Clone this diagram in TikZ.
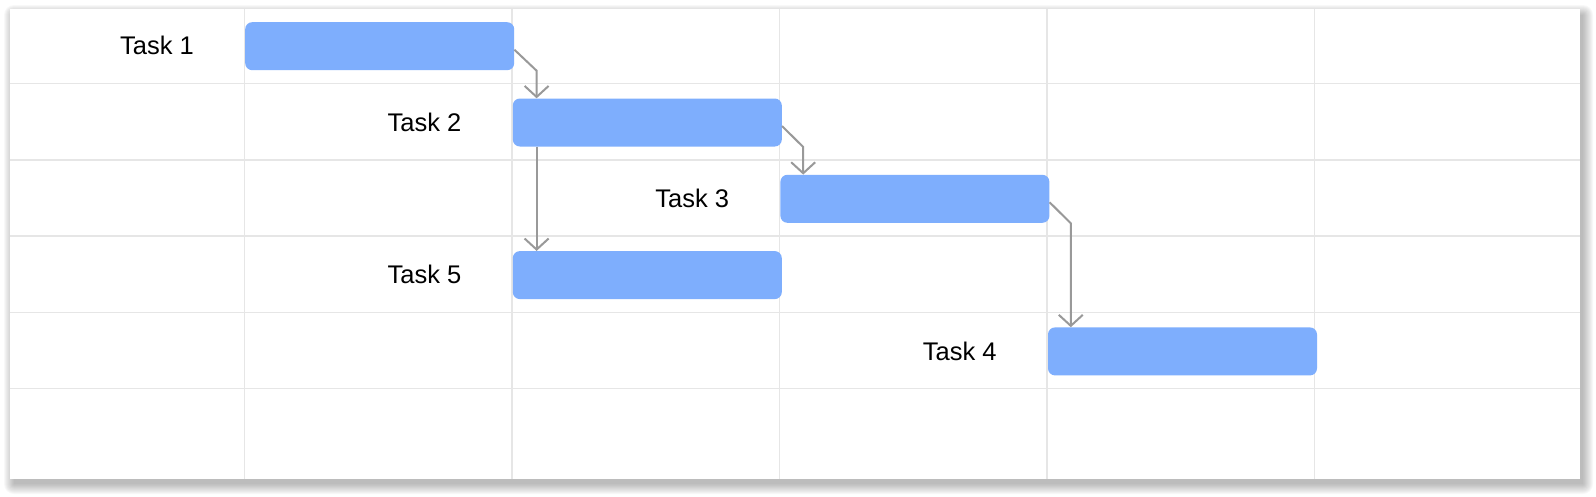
\documentclass[tikz,border=0pt]{standalone}
\usepackage{fontspec}
\setmainfont{Liberation Sans}
\usetikzlibrary{arrows.meta,calc}
\definecolor{barc}{HTML}{7EAEFD}
\definecolor{gridc}{HTML}{E6E6E6}
\definecolor{connc}{HTML}{999999}
\begin{document}
\begin{tikzpicture}[x=1pt,y=-1pt,
  taskbar/.style={fill=barc, draw=none, rounded corners=7pt, minimum width=269pt, minimum height=48pt, inner sep=0pt, anchor=north west},
  tasklabel/.style={font=\fontsize{25.5}{30}\selectfont, anchor=east, inner sep=0pt},
  connector/.style={draw=connc, line width=2pt, -{Straight Barb[length=11pt,width=24pt,line width=2pt]}},
  gridline/.style={draw=gridc, line width=1.5pt}]
\useasboundingbox (0,0) rectangle (1596,496);
% shadow
\foreach \i in {0,...,10}{
  \fill[black, opacity=0.028, rounded corners=\i pt] ({10+4-\i},{9+6-\i}) rectangle ({1580+3+\i},{479+5+\i});
}
\fill[white] (10,9) rectangle (1580,479);
% grid
\foreach \gx in {244.3,511.9,779.5,1047.1,1314.7}{
  \draw[gridline] (\gx,9) -- (\gx,479);
}
\foreach \gy in {83.5,159.8,236.1,312.4,388.7}{
  \draw[gridline] (10,\gy) -- (1580,\gy);
}
% bars
\node[taskbar] (t1) at (245,22) {};
\node[taskbar] (t2) at (512.6,98.3) {};
\node[taskbar] (t3) at (780.2,174.6) {};
\node[taskbar] (t5) at (512.6,250.9) {};
\node[taskbar] (t4) at (1047.8,327.2) {};
% labels
\node[tasklabel] (l1) at ([xshift=-51pt,yshift=0.5pt]t1.west) {Task 1};
\node[tasklabel] (l2) at ([xshift=-51pt,yshift=0.5pt]t2.west) {Task 2};
\node[tasklabel] (l3) at ([xshift=-51pt,yshift=0.5pt]t3.west) {Task 3};
\node[tasklabel] (l5) at ([xshift=-51pt,yshift=0.5pt]t5.west) {Task 5};
\node[tasklabel] (l4) at ([xshift=-51pt,yshift=0.5pt]t4.west) {Task 4};
% connectors
\coordinate (a1) at ([yshift=-3.5pt]t1.east);
\coordinate (b2) at ([xshift=24pt]t2.north west);
\coordinate (k1) at ($(b2 |- a1)+(0,21)$);
\draw[connector] (a1) -- (k1) -- (b2);
\coordinate (a2) at ([yshift=-3.5pt]t2.east);
\coordinate (b3) at ([xshift=23pt]t3.north west);
\coordinate (k2) at ($(b3 |- a2)+(0,21)$);
\draw[connector] (a2) -- (k2) -- (b3);
\coordinate (a3) at ([yshift=-3.5pt]t3.east);
\coordinate (b4) at ([xshift=23pt]t4.north west);
\coordinate (k3) at ($(b4 |- a3)+(0,21)$);
\draw[connector] (a3) -- (k3) -- (b4);
\coordinate (b5) at ([xshift=24pt]t5.north west);
\draw[connector] (b5 |- t2.south) -- (b5);
\end{tikzpicture}
\end{document}
